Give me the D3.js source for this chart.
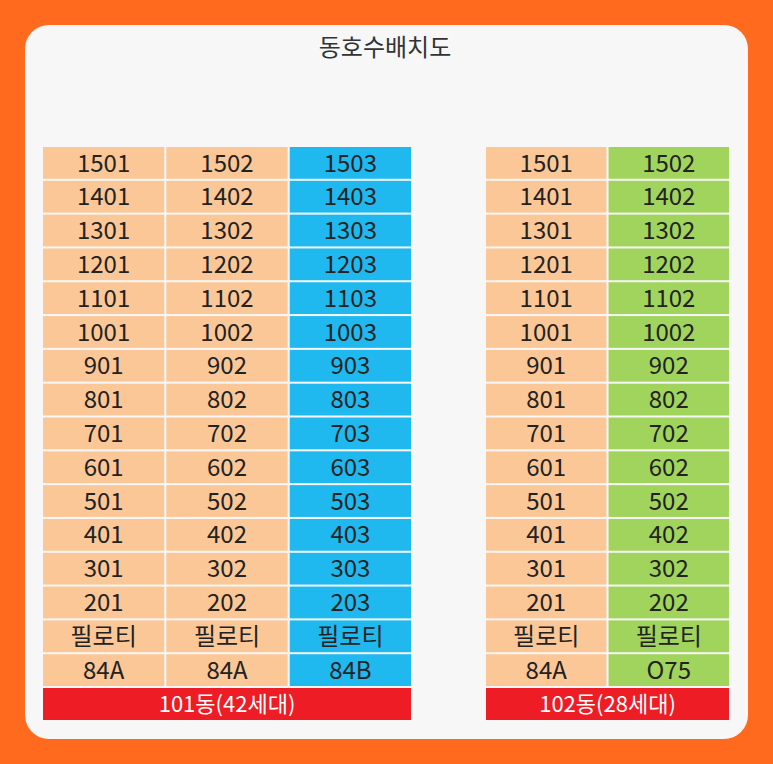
<!DOCTYPE html>
<html><head><meta charset="utf-8">
<script src="https://cdn.jsdelivr.net/npm/d3@7"></script>
<style>body{margin:0;background:#FF6A1F}</style></head>
<body><svg id="c" width="773" height="764"></svg>
<script>
const floors = ["15","14","13","12","11","10","9","8","7","6","5","4","3","2"];
const bottomRows = ["필로티","type"];
const b101Lines = ["01","02","03"];
const b101Types = ["84A","84A","84B"];
const b101Colors = ["#FBC797","#FBC797","#1FB9EF"];
const b102Lines = ["01","02"];
const b102Types = ["84A","O75"];
const b102Colors = ["#FBC797","#A0D45C"];
const buildings = ["101동(42세대)","102동(28세대)"];
const title = "동호수배치도";

const svg = d3.select("#c");
const font = "'Noto Sans CJK KR','Noto Sans',sans-serif";
svg.append("rect").attr("x",0).attr("y",0).attr("width",773).attr("height",764).attr("fill","#FF6A1F");
svg.append("rect").attr("x",25).attr("y",25).attr("width",723).attr("height",714).attr("rx",24).attr("fill","#F7F7F7");
svg.append("text").attr("x",385).attr("y",56).attr("text-anchor","middle").attr("font-family",font).attr("font-size",24).attr("fill","#333").text(title);

const rows = floors.concat(bottomRows);
const y = d3.scaleBand().domain(d3.range(rows.length)).range([147,686]).paddingInner(0.06);

function building(x0,x1,lines,types,colors,label){
  const x = d3.scaleBand().domain(lines).range([x0,x1]).paddingInner(0.017);
  const g = svg.append("g");
  rows.forEach((r,i)=>{
    lines.forEach((l,j)=>{
      const txt = i<floors.length ? floors[i]+l : (r==="필로티" ? "필로티" : types[j]);
      g.append("rect").attr("x",x(l)).attr("y",y(i)).attr("width",x.bandwidth()).attr("height",y.bandwidth()).attr("fill",colors[j]);
      g.append("text").attr("x",x(l)+x.bandwidth()/2).attr("y",y(i)+y.bandwidth()/2).attr("dy","0.36em")
        .attr("text-anchor","middle").attr("font-family",font).attr("font-size",24).attr("fill","#222").text(txt);
    });
  });
  g.append("rect").attr("x",x0).attr("y",688).attr("width",x1-x0).attr("height",32).attr("fill","#EE1C24");
  g.append("text").attr("x",(x0+x1)/2).attr("y",704).attr("dy","0.36em").attr("text-anchor","middle")
    .attr("font-family",font).attr("font-size",22).attr("fill","#fff").text(label);
}
building(43,411,b101Lines,b101Types,b101Colors,buildings[0]);
building(486,729,b102Lines,b102Types,b102Colors,buildings[1]);
</script></body></html>
